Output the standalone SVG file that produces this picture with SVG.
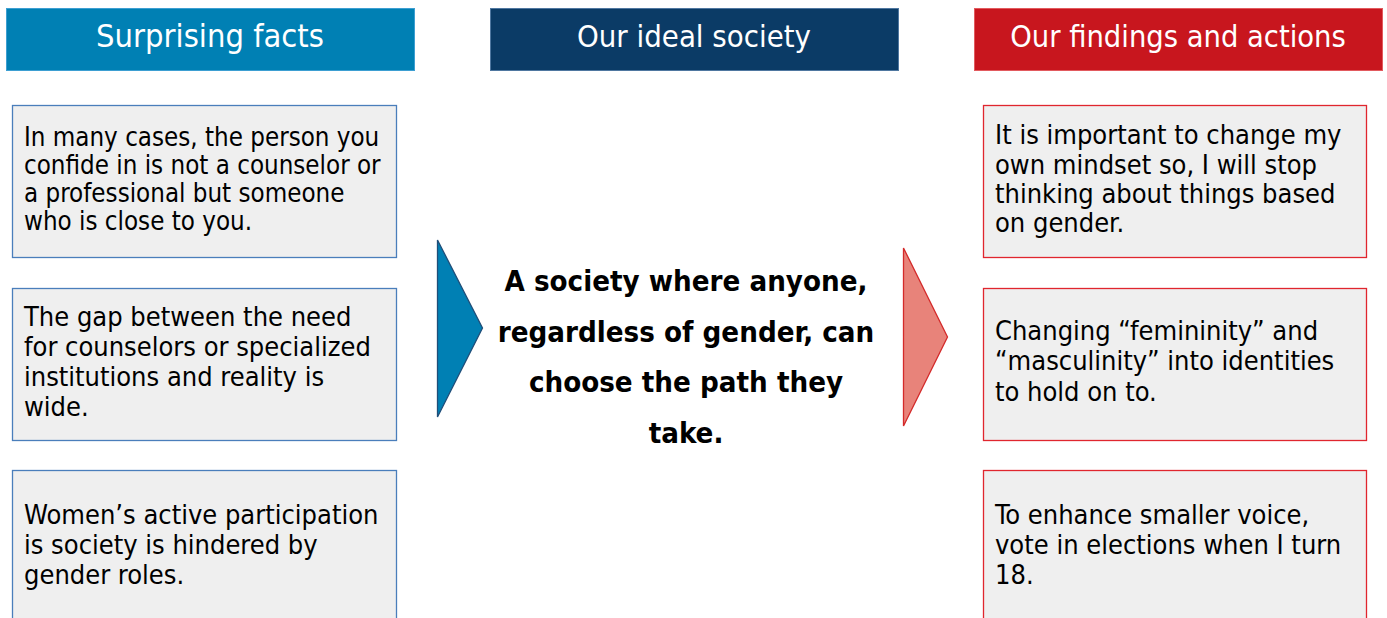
<svg xmlns="http://www.w3.org/2000/svg" width="1387" height="618" viewBox="0 0 1387 618">
<style>
.hd{font-family:"DejaVu Sans Condensed","DejaVu Sans",sans-serif;font-stretch:condensed;font-size:31px;fill:#fff;text-anchor:middle}
.bx{fill:#efefef;stroke-width:1.3}
.lb{stroke:#4a7ebb}
.rb{stroke:#e0262e}
.tx{font-family:"DejaVu Sans Condensed","DejaVu Sans",sans-serif;font-stretch:condensed;font-size:27px;fill:#000}
.sm{font-size:25.7px}
.ct{font-family:"DejaVu Sans Condensed","DejaVu Sans",sans-serif;font-stretch:condensed;font-weight:bold;font-size:29.2px;fill:#000;text-anchor:middle}
</style>
<rect width="1387" height="618" fill="#fff"/>
<g id="h1"><rect x="6.5" y="8.5" width="408" height="62" fill="#0080b4" stroke="#3d9fd2"/><text class="hd" x="210" y="47" style="font-size:32.4px">Surprising facts</text></g>
<g id="h2"><rect x="490.5" y="8.5" width="408" height="62" fill="#0b3b66" stroke="#4f77a0"/><text class="hd" x="694" y="47" style="font-size:30.8px">Our ideal society</text></g>
<g id="h3"><rect x="974.5" y="8.5" width="408" height="62" fill="#c8161e" stroke="#e25a5e"/><text class="hd" x="1178" y="47" style="font-size:30.5px">Our findings and actions</text></g>

<g id="l1"><rect class="bx lb" x="12.5" y="105.5" width="384" height="152"/>
<text class="tx sm"><tspan x="24" y="146">In many cases, the person you</tspan><tspan x="24" y="174">confide in is not a counselor or</tspan><tspan x="24" y="202">a professional but someone</tspan><tspan x="24" y="230">who is close to you.</tspan></text></g>
<g id="l2"><rect class="bx lb" x="12.5" y="288.5" width="384" height="152"/>
<text class="tx"><tspan x="24" y="326">The gap between the need</tspan><tspan x="24" y="356">for counselors or specialized</tspan><tspan x="24" y="386">institutions and reality is</tspan><tspan x="24" y="416">wide.</tspan></text></g>
<g id="l3"><rect class="bx lb" x="12.5" y="470.5" width="384" height="160"/>
<text class="tx"><tspan x="24" y="524">Women’s active participation</tspan><tspan x="24" y="554">is society is hindered by</tspan><tspan x="24" y="584">gender roles.</tspan></text></g>

<g id="center"><text class="ct"><tspan x="686" y="291">A society where anyone,</tspan><tspan x="686" y="342">regardless of gender, can</tspan><tspan x="686" y="392">choose the path they</tspan><tspan x="686" y="443">take.</tspan></text></g>

<g id="r1"><rect class="bx rb" x="983.5" y="105.5" width="383" height="152"/>
<text class="tx"><tspan x="995" y="144">It is important to change my</tspan><tspan x="995" y="174">own mindset so, I will stop</tspan><tspan x="995" y="203">thinking about things based</tspan><tspan x="995" y="232">on gender.</tspan></text></g>
<g id="r2"><rect class="bx rb" x="983.5" y="288.5" width="383" height="152"/>
<text class="tx"><tspan x="995" y="340">Changing “femininity” and</tspan><tspan x="995" y="370">“masculinity” into identities</tspan><tspan x="995" y="401">to hold on to.</tspan></text></g>
<g id="r3"><rect class="bx rb" x="983.5" y="470.5" width="383" height="160"/>
<text class="tx"><tspan x="995" y="524">To enhance smaller voice,</tspan><tspan x="995" y="554">vote in elections when I turn</tspan><tspan x="995" y="584">18.</tspan></text></g>

<g id="connectors">
<polygon points="437.5,240 482.5,328 437.5,417" fill="#0080b4" stroke="#1f4e79" stroke-width="1.3"/>
<polygon points="903.5,248 947.5,337 903.5,426" fill="#e8837a" stroke="#d42a2a" stroke-width="1.3"/>
</g>
</svg>
